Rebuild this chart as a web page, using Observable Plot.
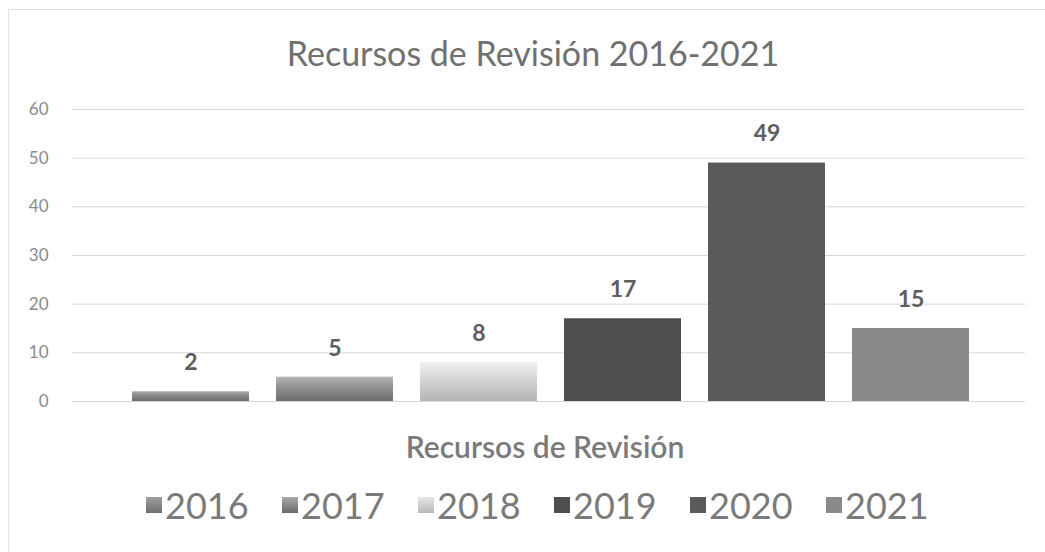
<!DOCTYPE html>
<html>
<head>
<meta charset="utf-8">
<script src="https://cdn.jsdelivr.net/npm/d3@7"></script>
<script src="https://cdn.jsdelivr.net/npm/@observablehq/plot@0.6"></script>
<style>
  html, body { margin: 0; padding: 0; background: #fff; }
  #wrap { position: relative; width: 1045px; height: 552px; overflow: hidden; font-family: Lato, "Open Sans", sans-serif; }
  #frame { position: absolute; left: 8px; top: 9px; width: 1045px; height: 560px; border: 1px solid #e2e2e2; box-sizing: border-box; }
  #title { position: absolute; left: 0; width: 1066px; top: 32px; text-align: center; font-size: 34px; color: #707070; }
  #chart { position: absolute; left: 0; top: 90px; }
  #legend { position: absolute; left: 146px; top: 483px; display: flex; font-size: 36px; color: #7a7a7a; }
  #legend .item { display: flex; align-items: center; gap: 3px; width: 136px; }
  #legend .sw { width: 16px; height: 16px; display: inline-block; }
</style>
</head>
<body>
<div id="wrap">
  <div id="frame"></div>
  <div id="title">Recursos de Revisión 2016-2021</div>
  <div id="chart"></div>
  <div id="legend"></div>
</div>
<script>
const years = ["2016", "2017", "2018", "2019", "2020", "2021"];
const counts = [2, 5, 8, 17, 49, 15];
const yTicks = [0, 10, 20, 30, 40, 50, 60];
const seriesFills = ["url(#g2016)", "url(#g2017)", "url(#g2018)", "#4e4e4e", "#5a5a5a", "#8a8a8a"];
const swatchCss = [
  "linear-gradient(#a0a0a0,#6e6e6e)",
  "linear-gradient(#a8a8a8,#6a6a6a)",
  "linear-gradient(#e6e6e6,#b8b8b8)",
  "#4e4e4e", "#5a5a5a", "#8a8a8a"
];
const xTitle = "Recursos de Revisión";

const data = years.map((y, i) => ({year: y, value: counts[i], fill: seriesFills[i]}));

const plot = Plot.plot({
  width: 1045,
  height: 380,
  marginLeft: 72,
  marginRight: 20,
  marginTop: 19,
  marginBottom: 69,
  style: {fontFamily: "Lato, 'Open Sans', sans-serif", background: "transparent"},
  x: {domain: years, paddingInner: 0.19, paddingOuter: 0.095, insetLeft: 44, insetRight: 41, axis: null},
  y: {domain: [0, 60], ticks: yTicks},
  color: {type: "identity"},
  marks: [
    Plot.ruleY(yTicks, {stroke: "#d6d6d6", strokeWidth: 1}),
    Plot.axisY(yTicks, {tickSize: 0, tickPadding: 24, fontSize: 17, color: "#8a8a8a", label: null}),
    Plot.barY(data, {x: "year", y: "value", fill: "fill"}),
    Plot.text(data, {x: "year", y: "value", text: d => String(d.value), dy: -29, fontSize: 23, fontWeight: "bold", fill: "#5e5e5e"}),
    Plot.text([xTitle], {frameAnchor: "bottom", text: d => d, dy: 56, dx: -4, fontSize: 30, fontWeight: 600, fill: "#7a7a7a"})
  ]
});

// gradient definitions for bevelled bars
const ns = "http://www.w3.org/2000/svg";
const defs = document.createElementNS(ns, "defs");
const grads = {
  g2016: [["0%", "#b0b0b0"], ["35%", "#8e8e8e"], ["100%", "#6a6a6a"]],
  g2017: [["0%", "#b8b8b8"], ["30%", "#9a9a9a"], ["100%", "#6c6c6c"]],
  g2018: [["0%", "#f0f0f0"], ["30%", "#dedede"], ["100%", "#b4b4b4"]]
};
for (const [id, stops] of Object.entries(grads)) {
  const g = document.createElementNS(ns, "linearGradient");
  g.setAttribute("id", id);
  g.setAttribute("x1", "0"); g.setAttribute("y1", "0");
  g.setAttribute("x2", "0"); g.setAttribute("y2", "1");
  for (const [o, c] of stops) {
    const s = document.createElementNS(ns, "stop");
    s.setAttribute("offset", o); s.setAttribute("stop-color", c);
    g.appendChild(s);
  }
  defs.appendChild(g);
}
plot.insertBefore(defs, plot.firstChild);
document.getElementById("chart").appendChild(plot);

const legend = document.getElementById("legend");
years.forEach((y, i) => {
  const item = document.createElement("div");
  item.className = "item";
  const sw = document.createElement("span");
  sw.className = "sw";
  sw.style.background = swatchCss[i];
  const t = document.createElement("span");
  t.textContent = y;
  item.appendChild(sw); item.appendChild(t);
  legend.appendChild(item);
});
</script>
</body>
</html>
